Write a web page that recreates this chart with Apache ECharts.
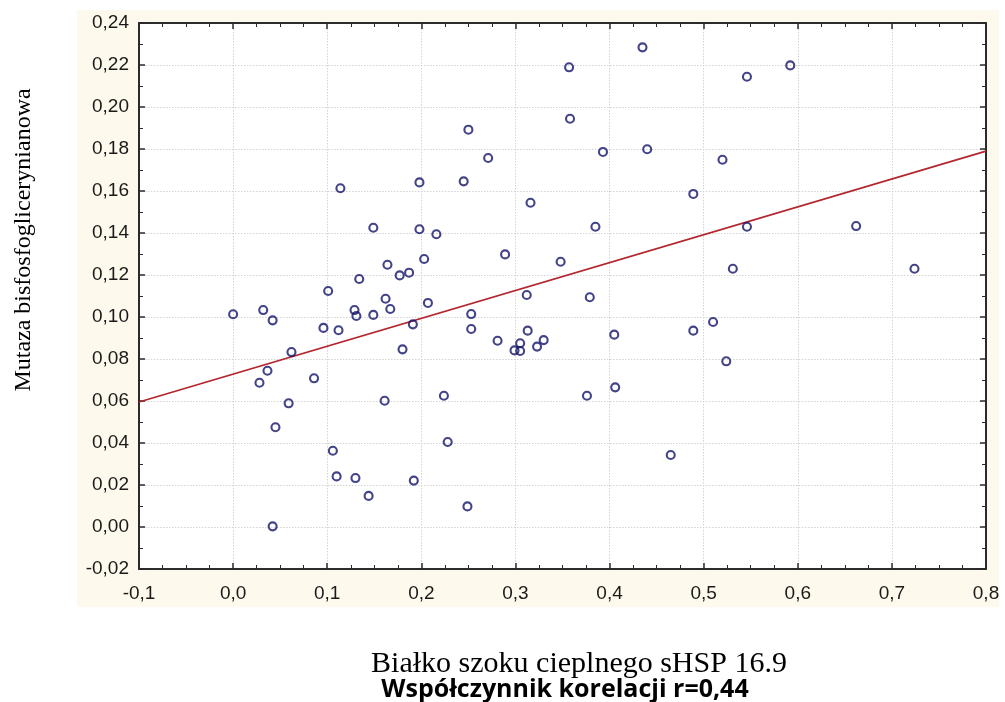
<!DOCTYPE html>
<html>
<head>
<meta charset="utf-8">
<script src="https://cdn.jsdelivr.net/npm/echarts@6/dist/echarts.min.js"></script>
<style>
  html, body { margin: 0; padding: 0; background: #ffffff; }
  #chart { width: 1005px; height: 702px; }
</style>
</head>
<body>
<div id="chart"></div>
<script>
// sHSP 16.9 level (x) vs. bisphosphoglycerate mutase (y), one pair per sample
const sHSP = [
  0.000, 0.032, 0.042, 0.062, 0.0365, 0.028, 0.059, 0.045, 0.042, 0.086,
  0.096, 0.101, 0.112, 0.129, 0.131, 0.149, 0.162, 0.167, 0.180, 0.191,
  0.207, 0.161, 0.224, 0.228, 0.106, 0.110, 0.130, 0.144, 0.192,
  0.114, 0.149, 0.198, 0.198, 0.216, 0.164, 0.134, 0.177, 0.187, 0.203,
  0.250, 0.271, 0.245, 0.289, 0.316, 0.357, 0.358, 0.393, 0.435, 0.440,
  0.385, 0.348, 0.489, 0.520, 0.312, 0.379,
  0.531, 0.546, 0.592, 0.546, 0.662, 0.724,
  0.253, 0.253, 0.281, 0.305, 0.299, 0.305, 0.313, 0.323, 0.330, 0.405,
  0.406, 0.376, 0.249, 0.465, 0.489, 0.510, 0.524
];
const mutaza = [
  0.1013, 0.1033, 0.0984, 0.0833, 0.0744, 0.0687, 0.0589, 0.0475, 0.0003, 0.0708,
  0.0948, 0.1124, 0.0937, 0.1033, 0.1005, 0.1010, 0.1087, 0.1038, 0.0846, 0.0965,
  0.1067, 0.0601, 0.0625, 0.0405, 0.0363, 0.0241, 0.0233, 0.0148, 0.0221,
  0.1613, 0.1425, 0.1641, 0.1418, 0.1394, 0.1249, 0.1181, 0.1198, 0.1211, 0.1276,
  0.1892, 0.1757, 0.1646, 0.1298, 0.1544, 0.2189, 0.1944, 0.1786, 0.2284, 0.1799,
  0.1430, 0.1263, 0.1586, 0.1749, 0.1105, 0.1094,
  0.1230, 0.2144, 0.2198, 0.1430, 0.1433, 0.1230,
  0.1014, 0.0943, 0.0887, 0.0875, 0.0841, 0.0838, 0.0935, 0.0859, 0.0890, 0.0916,
  0.0665, 0.0625, 0.0098, 0.0343, 0.0935, 0.0976, 0.0789
];
// fitted regression line, end points at the axis limits
const fitX = [-0.1, 0.8];
const fitY = [0.0595, 0.179];

const xTicks = { min: -0.1, max: 0.8, interval: 0.1 };
const yTicks = { min: -0.02, max: 0.24, interval: 0.02 };

const points = sHSP.map((x, i) => [x, mutaza[i]]);
const fitLine = fitX.map((x, i) => [x, fitY[i]]);

const frameColor = '#2b2b2b';
const labelFont = { fontFamily: '"Liberation Sans", Arial, sans-serif', fontSize: 19, color: '#1a1a1a' };
const gridLine = { show: true, lineStyle: { color: '#d3d3d3', type: [1.5, 1.5], width: 1 } };

function xAxisDef(pos, withLabels) {
  return {
    type: 'value', position: pos, min: xTicks.min, max: xTicks.max, interval: xTicks.interval,
    axisLine: { show: true, onZero: false, lineStyle: { color: frameColor, width: 2 } },
    axisTick: { show: true, inside: true, length: 6, lineStyle: { color: frameColor, width: 1.5 } },
    minorTick: { show: true, splitNumber: 4, length: 4, lineStyle: { color: frameColor, width: 1 } },
    axisLabel: withLabels ? Object.assign({
      show: true, margin: 15,
      formatter: v => v.toFixed(1).replace('.', ','),
    }, labelFont) : { show: false },
    splitLine: withLabels ? gridLine : { show: false },
  };
}
function yAxisDef(pos, withLabels) {
  return {
    type: 'value', position: pos, min: yTicks.min, max: yTicks.max, interval: yTicks.interval,
    axisLine: { show: true, onZero: false, lineStyle: { color: frameColor, width: 2 } },
    axisTick: { show: true, inside: true, length: 6, lineStyle: { color: frameColor, width: 1.5 } },
    minorTick: { show: true, splitNumber: 2, length: 4, lineStyle: { color: frameColor, width: 1 } },
    axisLabel: withLabels ? Object.assign({
      show: true, margin: 10,
      formatter: v => v.toFixed(2).replace('.', ','),
    }, labelFont) : { show: false },
    splitLine: withLabels ? gridLine : { show: false },
  };
}

const chart = echarts.init(document.getElementById('chart'), null, { renderer: 'canvas' });
chart.setOption({
  backgroundColor: '#ffffff',
  animation: false,
  graphic: [
    // cream panel behind the axes and tick labels
    { type: 'rect', z: -10, shape: { x: 77, y: 10, width: 922, height: 597 }, style: { fill: '#fdf9ec' } },
    // white plotting area
    { type: 'rect', z: -9, shape: { x: 139, y: 23, width: 847, height: 546 }, style: { fill: '#ffffff' } },
    {
      type: 'text', z: 10, x: 24, y: 240, rotation: Math.PI / 2,
      style: {
        text: 'Mutaza bisfosfoglicerynianowa',
        font: '24px "Liberation Serif", "Times New Roman", serif',
        fill: '#000000', textAlign: 'center', textVerticalAlign: 'middle'
      }
    },
    {
      type: 'text', z: 10, x: 579, y: 664,
      style: {
        text: 'Białko szoku cieplnego sHSP 16.9',
        font: '30px "Liberation Serif", "Times New Roman", serif',
        fill: '#000000', textAlign: 'center', textVerticalAlign: 'middle'
      }
    },
    {
      type: 'text', z: 10, x: 565, y: 690,
      style: {
        text: 'Współczynnik korelacji r=0,44',
        font: 'bold 25px "Open Sans", "Liberation Sans", sans-serif',
        fill: '#000000', textAlign: 'center', textVerticalAlign: 'middle'
      }
    }
  ],
  grid: { left: 139, right: 19, top: 23, bottom: 133, containLabel: false },
  xAxis: [xAxisDef('bottom', true), xAxisDef('top', false)],
  yAxis: [yAxisDef('left', true), yAxisDef('right', false)],
  series: [
    {
      type: 'line', xAxisIndex: 0, yAxisIndex: 0, data: fitLine,
      symbol: 'none', lineStyle: { color: '#b3262e', width: 1.7 }, z: 3, silent: true
    },
    {
      type: 'scatter', xAxisIndex: 0, yAxisIndex: 0, data: points,
      symbol: 'circle', symbolSize: 8,
      itemStyle: { color: 'rgba(255,255,255,0)', borderColor: '#14146a', borderWidth: 2.1 },
      z: 4
    }
  ]
});
</script>
</body>
</html>
